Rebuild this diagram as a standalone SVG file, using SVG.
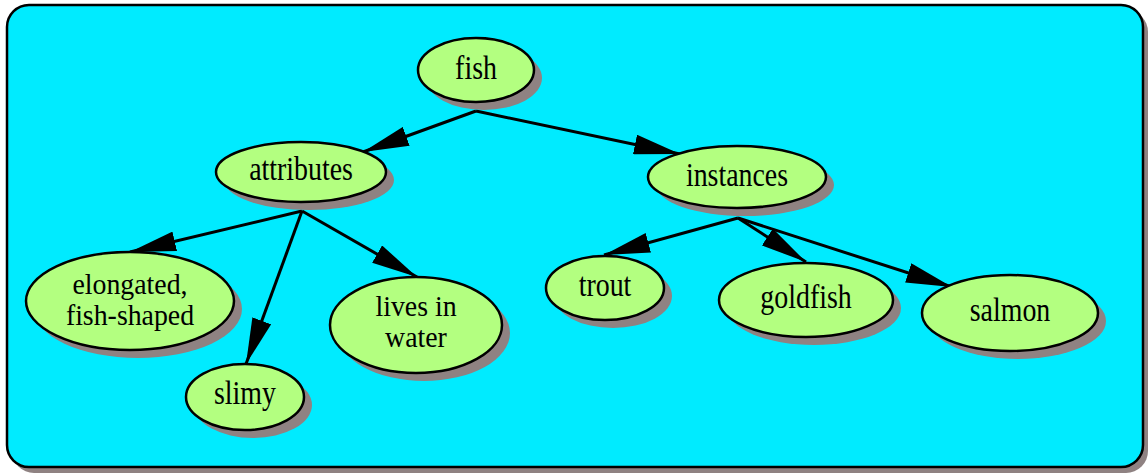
<svg xmlns="http://www.w3.org/2000/svg" width="1148" height="473" viewBox="0 0 1148 473">
<style>
.sh{fill:#8f8282}
.nd{fill:#b3ff80;stroke:#000;stroke-width:2.5}
.tx{font-family:'Liberation Serif','Times New Roman','DejaVu Serif',serif;font-size:33px;fill:#000;text-anchor:middle}
.t2{font-family:'Liberation Serif','Times New Roman','DejaVu Serif',serif;font-size:29px;fill:#000;text-anchor:middle}
.ed{stroke:#000;stroke-width:3;fill:none;marker-end:url(#ah)}
</style>
<defs>
<marker id="ah" markerUnits="userSpaceOnUse" viewBox="0 0 46 20" markerWidth="46" markerHeight="20" refX="46" refY="10" orient="auto">
<path d="M0,0 L46,10 L0,20 z" fill="#000"/>
</marker>
</defs>
<g id="panel">
<rect x="12" y="10" width="1136" height="463" rx="22" fill="#8f8282"/>
<rect x="7" y="5" width="1136" height="462" rx="22" fill="#00ebff" stroke="#000" stroke-width="2.5"/>
</g>
<g id="connectors">
<line class="ed" x1="476" y1="111" x2="363" y2="152"/>
<line class="ed" x1="476" y1="111" x2="680" y2="154"/>
<line class="ed" x1="302" y1="211" x2="130" y2="252"/>
<line class="ed" x1="302" y1="211" x2="246" y2="364"/>
<line class="ed" x1="302" y1="211" x2="417" y2="277"/>
<line class="ed" x1="738" y1="218" x2="604" y2="255"/>
<line class="ed" x1="738" y1="218" x2="806" y2="262"/>
<line class="ed" x1="738" y1="218" x2="952" y2="287"/>
</g>
<g id="n-fish">
<ellipse class="sh" cx="484" cy="78" rx="58" ry="32"/>
<ellipse class="nd" cx="476" cy="70" rx="58" ry="32"/>
<text class="tx" transform="translate(476,79) scale(0.845,1)">fish</text>
</g>
<g id="n-attributes">
<ellipse class="sh" cx="309" cy="180" rx="85" ry="30"/>
<ellipse class="nd" cx="301" cy="172" rx="85" ry="30"/>
<text class="tx" transform="translate(301,180) scale(0.845,1)">attributes</text>
</g>
<g id="n-instances">
<ellipse class="sh" cx="745" cy="185" rx="89" ry="31"/>
<ellipse class="nd" cx="737" cy="177" rx="89" ry="31"/>
<text class="tx" transform="translate(737,186) scale(0.845,1)">instances</text>
</g>
<g id="n-elongated">
<ellipse class="sh" cx="138" cy="309" rx="104" ry="49"/>
<ellipse class="nd" cx="130" cy="301" rx="104" ry="49"/>
<text class="t2" transform="translate(130,294) scale(0.96,1)">elongated,</text>
<text class="t2" transform="translate(130,325) scale(0.96,1)">fish-shaped</text>
</g>
<g id="n-slimy">
<ellipse class="sh" cx="253" cy="405" rx="59" ry="33"/>
<ellipse class="nd" cx="245" cy="397" rx="59" ry="33"/>
<text class="tx" transform="translate(245,404) scale(0.845,1)">slimy</text>
</g>
<g id="n-lives">
<ellipse class="sh" cx="424" cy="333" rx="86" ry="48"/>
<ellipse class="nd" cx="416" cy="325" rx="86" ry="48"/>
<text class="t2" transform="translate(416,316) scale(0.96,1)">lives in</text>
<text class="t2" transform="translate(416,347) scale(0.96,1)">water</text>
</g>
<g id="n-trout">
<ellipse class="sh" cx="613" cy="296" rx="59" ry="32"/>
<ellipse class="nd" cx="605" cy="288" rx="59" ry="32"/>
<text class="tx" transform="translate(605,296) scale(0.845,1)">trout</text>
</g>
<g id="n-goldfish">
<ellipse class="sh" cx="814" cy="308" rx="87" ry="37"/>
<ellipse class="nd" cx="806" cy="300" rx="87" ry="37"/>
<text class="tx" transform="translate(806,308) scale(0.845,1)">goldfish</text>
</g>
<g id="n-salmon">
<ellipse class="sh" cx="1018" cy="321" rx="88" ry="38"/>
<ellipse class="nd" cx="1010" cy="313" rx="88" ry="38"/>
<text class="tx" transform="translate(1010,321) scale(0.845,1)">salmon</text>
</g>
</svg>
